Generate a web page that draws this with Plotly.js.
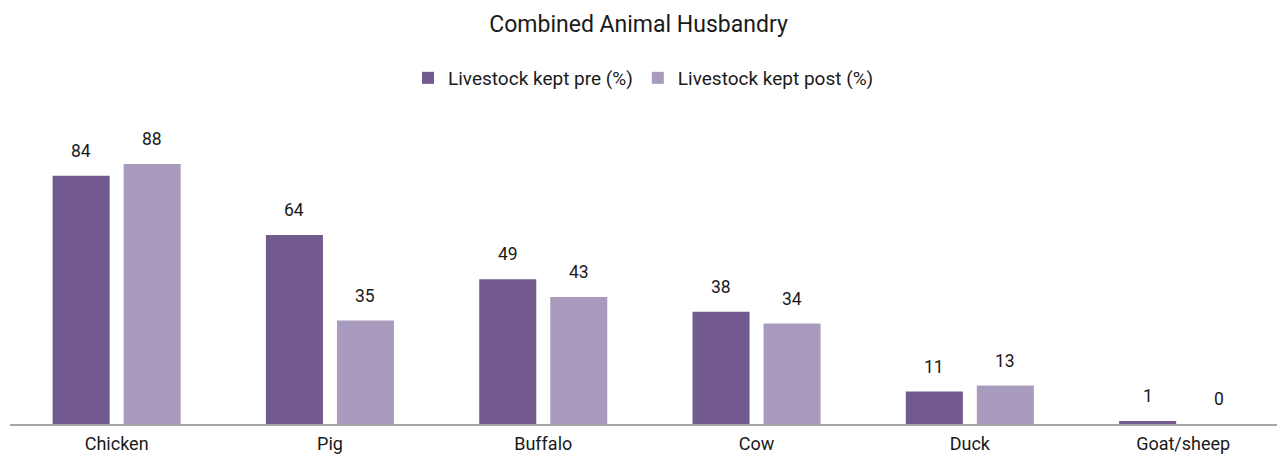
<!DOCTYPE html>
<html>
<head>
<meta charset="utf-8">
<script src="https://cdn.plot.ly/plotly-3.0.1.min.js"></script>
<style>
  html, body { margin: 0; padding: 0; background: #ffffff; }
  #chart { width: 1277px; height: 456px; }
</style>
</head>
<body>
<div id="chart"></div>
<script>
// Share of households keeping each animal, before and after
const categories = ["Chicken", "Pig", "Buffalo", "Cow", "Duck", "Goat/sheep"];
const preValues = [84, 64, 49, 38, 11, 1];
const postValues = [88, 35, 43, 34, 13, 0];
const seriesNames = ["Livestock kept pre (%)", "Livestock kept post (%)"];
const seriesColors = ["#72598e", "#a99bbd"];

const FONT = "Roboto, 'Noto Sans', Arial, sans-serif";
const TEXT_COLOR = "#1a1a1a";

const traces = [preValues, postValues].map((vals, i) => ({
  type: "bar",
  name: seriesNames[i],
  x: categories,
  y: vals,
  marker: { color: seriesColors[i] },
  hoverinfo: "x+y+name"
}));

// Value labels sit above each bar, offset left/right to follow the grouped bars
const offsets = [-35.5, 35.5];
const annotations = [];
[preValues, postValues].forEach((vals, i) => {
  vals.forEach((v, j) => {
    annotations.push({
      x: categories[j],
      y: v,
      xref: "x",
      yref: "y",
      text: String(v),
      showarrow: false,
      xshift: offsets[i],
      yshift: 25,
      yanchor: "middle",
      font: { family: FONT, size: 17.5, color: TEXT_COLOR }
    });
  });
});

const layout = {
  width: 1277,
  height: 456,
  margin: { l: 10, r: 0, t: 128, b: 32 },
  paper_bgcolor: "#ffffff",
  plot_bgcolor: "#ffffff",
  font: { family: FONT, color: TEXT_COLOR },
  title: {
    text: "Combined Animal Husbandry",
    font: { family: FONT, size: 23, color: TEXT_COLOR },
    x: 0.5,
    xanchor: "center",
    y: 0.947,
    yanchor: "middle"
  },
  showlegend: true,
  legend: {
    orientation: "h",
    x: 0.5,
    xanchor: "center",
    y: 1.169,
    yanchor: "middle",
    font: { family: FONT, size: 19, color: TEXT_COLOR },
    itemwidth: 30,
    traceorder: "normal"
  },
  barmode: "group",
  bargap: 0.334,
  bargroupgap: 0.197,
  xaxis: {
    type: "category",
    range: [-0.5, 5.44],
    showline: true,
    linecolor: "#a6a6a6",
    linewidth: 2,
    ticks: "",
    ticklabelstandoff: 2,
    showgrid: false,
    zeroline: false,
    tickfont: { family: FONT, size: 18, color: TEXT_COLOR },
    fixedrange: true
  },
  yaxis: {
    range: [0, 100.2],
    showticklabels: false,
    showgrid: false,
    zeroline: false,
    showline: false,
    ticks: "",
    fixedrange: true
  },
  annotations: annotations
};

Plotly.newPlot("chart", traces, layout, { displayModeBar: false, staticPlot: true });
</script>
</body>
</html>
